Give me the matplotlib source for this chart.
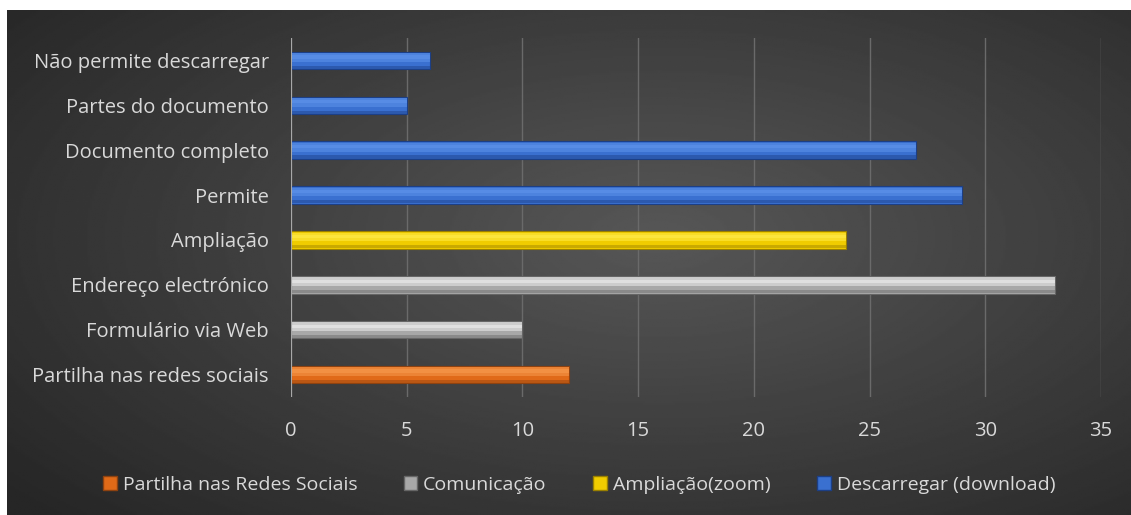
import numpy as np
import matplotlib.pyplot as plt
from matplotlib.patches import Patch

# data (bottom to top)
categorias = ["Partilha nas redes sociais", "Formulário via Web", "Endereço electrónico",
              "Ampliação", "Permite", "Documento completo", "Partes do documento",
              "Não permite descarregar"]
valores = [12, 10, 33, 24, 29, 27, 5, 6]
grupo = [0, 1, 1, 2, 3, 3, 3, 3]
grupos = ["Partilha nas Redes Sociais", "Comunicação", "Ampliação(zoom)", "Descarregar (download)"]

cor = ["#E06A18", "#A8A8A8", "#F0CC00", "#3A70D0"]
cor_luz = ["#F79A4E", "#EDEDED", "#FFEC4A", "#5E93EA"]
cor_esc = ["#8E4210", "#666666", "#9A8000", "#1C3F86"]

W, H = 1131, 515
fig = plt.figure(figsize=(W / 100, H / 100), dpi=100)
fig.patch.set_facecolor("white")

# radial gradient background
bg = fig.add_axes([7 / W, 0, 1 - 7 / W, 1 - 10 / H])
yy, xx = np.mgrid[0:1:300j, 0:1:600j]
r = np.sqrt(((xx - 0.58) / 0.75) ** 2 + ((yy - 0.45) / 0.8) ** 2)
img = 0.34 - 0.19 * np.clip(r, 0, 1)
bg.imshow(img, cmap="gray", vmin=0, vmax=1, aspect="auto", extent=[0, 1, 0, 1])
bg.axis("off")

ax = fig.add_axes([291 / W, 1 - 397 / H, 810 / W, 359 / H])
ax.patch.set_alpha(0)
y = np.arange(len(categorias))
h = 0.39
ax.barh(y, valores, height=h, color=[cor[g] for g in grupo],
        edgecolor=[cor_esc[g] for g in grupo], linewidth=0.8, zorder=3)
# bevel: lighter upper half, darker lower edge
ax.barh(y + h * 0.17, valores, height=h * 0.5, color=[cor_luz[g] for g in grupo],
        linewidth=0, zorder=4, alpha=0.55)
ax.barh(y + h * 0.2, valores, height=h * 0.18, color=[cor_luz[g] for g in grupo],
        linewidth=0, zorder=4, alpha=0.6)
ax.barh(y - h * 0.39, valores, height=h * 0.18, color=[cor_esc[g] for g in grupo],
        linewidth=0, zorder=4, alpha=0.45)

ax.set_xlim(0, 35)
ax.set_ylim(-0.5, len(categorias) - 0.5)
ax.set_xticks(range(0, 36, 5))
ax.set_yticks(y)
ax.set_yticklabels(categorias)
ax.grid(axis="x", color="#6a6a6a", linewidth=1, zorder=0)
ax.axvline(0, color="#a8a8a8", linewidth=1.5, zorder=5)
for s in ax.spines.values():
    s.set_visible(False)
ax.tick_params(length=0, colors="#d9d9d9", labelsize=14.5)
for t in ax.get_xticklabels() + ax.get_yticklabels():
    t.set_fontfamily("Open Sans")
ax.tick_params(axis="y", pad=16)
ax.tick_params(axis="x", pad=17)

handles = [Patch(facecolor=cor[i], edgecolor=cor_esc[i], label=grupos[i]) for i in range(4)]
fig.legend(handles=handles, loc="center", bbox_to_anchor=(0.512, 1 - 485 / H), ncol=4,
           frameon=False, prop={"family": "Open Sans", "size": 14}, labelcolor="#d9d9d9",
           handlelength=0.7, handleheight=0.7, handletextpad=0.3, columnspacing=2.4)

fig.savefig("out.png", dpi=100)
